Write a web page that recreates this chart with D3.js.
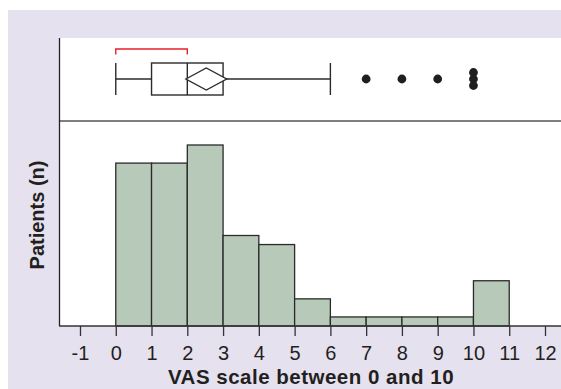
<!DOCTYPE html>
<html>
<head>
<meta charset="utf-8">
<script src="https://cdn.jsdelivr.net/npm/d3@7"></script>
<style>
  body { margin: 0; background: #fff; }
  svg { display: block; font-family: "Liberation Sans", Arial, Helvetica, sans-serif; }
</style>
</head>
<body>
<svg id="chart"></svg>
<script>
const width = 561;
const height = 389;

// histogram bins (VAS score) and patient counts
const binStarts = [0, 1, 2, 3, 4, 5, 6, 7, 8, 9, 10];
const counts = [18, 18, 20, 10, 9, 3, 1, 1, 1, 1, 5];

// box plot summary
const boxMin = 0, boxQ1 = 1, boxMedian = 2, boxQ3 = 3, boxMax = 6;
const meanValue = 2.53, meanCiLow = 1.96, meanCiHigh = 3.1;
const outliers = [7, 8, 9, 10, 10, 10];
const bracket = [0, 2];

const xTicks = [-1, 0, 1, 2, 3, 4, 5, 6, 7, 8, 9, 10, 11, 12];

const svg = d3.select("#chart")
    .attr("width", width)
    .attr("height", height);

// lavender frame
svg.append("rect")
    .attr("x", 8).attr("y", 10)
    .attr("width", width - 8).attr("height", height - 10)
    .attr("fill", "#e6e1ef");

const plotLeft = 60, plotRight = 561, plotTop = 38, divider = 121, plotBottom = 326;

svg.append("rect")
    .attr("x", plotLeft).attr("y", plotTop)
    .attr("width", plotRight - plotLeft).attr("height", plotBottom - plotTop)
    .attr("fill", "#fff");

const x = d3.scaleLinear()
    .domain([-1, 12])
    .range([80, 545]);

const y = d3.scaleLinear()
    .domain([0, 20])
    .range([plotBottom, 145]);

// histogram bars
svg.selectAll(".bar")
    .data(binStarts)
    .enter()
    .append("rect")
    .attr("class", "bar")
    .attr("x", d => x(d))
    .attr("y", (d, i) => y(counts[i]))
    .attr("width", d => x(d + 1) - x(d))
    .attr("height", (d, i) => y(0) - y(counts[i]))
    .attr("fill", "#b7c9b9")
    .attr("stroke", "#2b2b2b")
    .attr("stroke-width", 1.3);

// divider between box plot and histogram
svg.append("line")
    .attr("x1", plotLeft).attr("x2", plotRight)
    .attr("y1", divider).attr("y2", divider)
    .attr("stroke", "#555")
    .attr("stroke-width", 1.6);

// left axis line
svg.append("line")
    .attr("x1", plotLeft - 0.5).attr("x2", plotLeft - 0.5)
    .attr("y1", plotTop).attr("y2", plotBottom)
    .attr("stroke", "#222")
    .attr("stroke-width", 1.3);

// x axis
const xAxis = d3.axisBottom(x)
    .tickValues(xTicks)
    .tickSize(10)
    .tickPadding(9.5)
    .tickFormat(d => String(d));

const gx = svg.append("g")
    .attr("transform", `translate(0, ${plotBottom})`)
    .call(xAxis);

gx.select(".domain").remove();
gx.append("line")
    .attr("x1", plotLeft - 1).attr("x2", plotRight)
    .attr("stroke", "#333").attr("stroke-width", 1.5);
gx.selectAll(".tick line").attr("stroke", "#333").attr("stroke-width", 1.3);
gx.selectAll(".tick text")
    .attr("fill", "#231f20")
    .style("font-size", "20px")
    .style("font-family", "'Liberation Sans', Arial, sans-serif");

// box plot
const cy = 79;
const boxH = 32;
const box = svg.append("g").attr("stroke", "#2b2b2b").attr("fill", "none").attr("stroke-width", 1.4);

box.append("line")
    .attr("x1", x(boxMin)).attr("x2", x(boxQ1))
    .attr("y1", cy).attr("y2", cy);
box.append("line")
    .attr("x1", x(boxQ3)).attr("x2", x(boxMax))
    .attr("y1", cy).attr("y2", cy);
[boxMin, boxMax].forEach(v => {
    box.append("line")
        .attr("x1", x(v)).attr("x2", x(v))
        .attr("y1", cy - boxH / 2).attr("y2", cy + boxH / 2);
});
box.append("rect")
    .attr("x", x(boxQ1)).attr("y", cy - boxH / 2)
    .attr("width", x(boxQ3) - x(boxQ1)).attr("height", boxH);
box.append("line")
    .attr("x1", x(boxMedian)).attr("x2", x(boxMedian))
    .attr("y1", cy - boxH / 2).attr("y2", cy + boxH / 2);

// mean diamond
const dh = 11;
box.append("path")
    .attr("d", `M${x(meanCiLow)},${cy} L${x(meanValue)},${cy - dh} L${x(meanCiHigh)},${cy} L${x(meanValue)},${cy + dh} Z`)
    .attr("fill", "#fff");

// outliers (repeats at same value are stacked)
const seen = {};
svg.selectAll(".outlier")
    .data(outliers)
    .enter()
    .append("circle")
    .attr("class", "outlier")
    .attr("cx", d => x(d))
    .attr("cy", d => {
        const k = seen[d] = (seen[d] || 0) + 1;
        const n = outliers.filter(o => o === d).length;
        return cy + (k - 1 - (n - 1) / 2) * 6.5;
    })
    .attr("r", 4.4)
    .attr("fill", "#1f1f1f");

// red bracket
svg.append("path")
    .attr("d", `M${x(bracket[0])},54.5 V49 H${x(bracket[1])} V54.5`)
    .attr("fill", "none")
    .attr("stroke", "#e8202a")
    .attr("stroke-width", 1.4);

// axis titles
svg.append("text")
    .attr("x", 311).attr("y", 384)
    .attr("text-anchor", "middle")
    .style("font-size", "20.5px")
    .style("font-weight", "bold")
    .style("letter-spacing", "0.5px")
    .attr("fill", "#231f20")
    .text("VAS scale between 0 and 10");

svg.append("text")
    .attr("transform", "translate(44, 215) rotate(-90)")
    .attr("text-anchor", "middle")
    .style("font-size", "20px")
    .style("font-weight", "bold")
    .attr("fill", "#231f20")
    .text("Patients (n)");
</script>
</body>
</html>
